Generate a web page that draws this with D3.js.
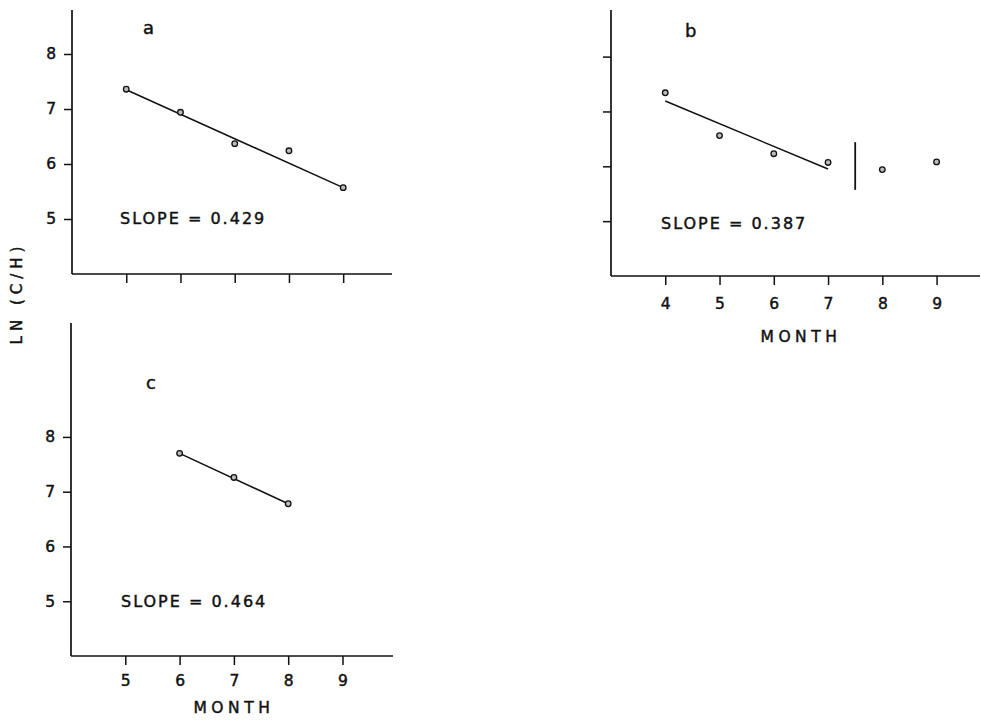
<!DOCTYPE html>
<html>
<head>
<meta charset="utf-8">
<script src="https://cdn.jsdelivr.net/npm/d3@7"></script>
<style>
  body { margin: 0; background: #fff; }
  svg text { font-family: 'DejaVu Sans', sans-serif; fill: #111; stroke: #111; stroke-width: 0.45; }
</style>
</head>
<body>
<div id="chart"></div>
<script>
// values
var yTicks = [5, 6, 7, 8];

var monthsA = [5, 6, 7, 8, 9];
var lnA = [7.36, 6.94, 6.37, 6.24, 5.57];
var fitMonthsA = [5, 9];
var fitA = [7.35, 5.57];

var monthsB = [4, 5, 6, 7, 8, 9];
var lnB = [7.34, 6.56, 6.23, 6.07, 5.94, 6.08];
var fitMonthsB = [4, 7];
var fitB = [7.19, 5.95];
var breakMonthB = 7.5;
var breakRangeB = [5.57, 6.44];

var monthsC = [6, 7, 8];
var lnC = [7.70, 7.26, 6.78];
var fitMonthsC = [6, 8];
var fitC = [7.70, 6.78];

var xTicksA = [5, 6, 7, 8, 9];
var xTicksB = [4, 5, 6, 7, 8, 9];
var xTicksC = [5, 6, 7, 8, 9];

var svgwidth = 981, svgheight = 728;

var svg = d3.select('#chart')
	.append('svg')
		.attr('width', svgwidth)
		.attr('height', svgheight);

function drawPanel(p) {
	var x = d3.scaleLinear().domain(p.xDomain).range([p.left, p.right]);
	var y = d3.scaleLinear().domain(p.yDomain).range([p.bottom, p.top]);
	var g = svg.append('g');

	// axes as plain lines, like the old plotter figure
	g.append('line')
		.attr('x1', p.left).attr('x2', p.left)
		.attr('y1', p.top).attr('y2', p.bottom)
		.attr('stroke', '#111').attr('stroke-width', 1.7);
	g.append('line')
		.attr('x1', p.left).attr('x2', p.right)
		.attr('y1', p.bottom).attr('y2', p.bottom)
		.attr('stroke', '#111').attr('stroke-width', 1.7);

	var yAxis = d3.axisLeft(y)
		.tickValues(yTicks)
		.tickSize(8)
		.tickPadding(8)
		.tickFormat(p.yLabels ? d3.format('d') : '');
	var gy = g.append('g')
		.attr('transform', 'translate(' + p.left + ',0)')
		.call(yAxis);
	gy.select('.domain').remove();

	var xAxis = d3.axisBottom(x)
		.tickValues(p.xTicks)
		.tickSize(9)
		.tickPadding(p.xPad)
		.tickFormat(p.xLabels ? d3.format('d') : '');
	var gx = g.append('g')
		.attr('transform', 'translate(0,' + p.bottom + ')')
		.call(xAxis);
	gx.select('.domain').remove();

	[gx, gy].forEach(function(a) {
		a.selectAll('.tick line').attr('stroke', '#111').attr('stroke-width', 1.5);
		a.selectAll('.tick text')
			.attr('font-size', 15.5)
			.attr('font-family', "'DejaVu Sans', sans-serif")
			.attr('fill', '#111');
	});

	// fitted line
	var fit = p.fitMonths.map(function(m, i) { return [m, p.fit[i]]; });
	g.append('path')
		.datum(fit)
		.attr('fill', 'none')
		.attr('stroke', '#111')
		.attr('stroke-width', 1.5)
		.attr('d', d3.line()
			.x(function(d) { return x(d[0]); })
			.y(function(d) { return y(d[1]); }));

	if (p.breakMonth) {
		g.append('line')
			.attr('x1', x(p.breakMonth)).attr('x2', x(p.breakMonth))
			.attr('y1', y(p.breakRange[1])).attr('y2', y(p.breakRange[0]))
			.attr('stroke', '#111').attr('stroke-width', 1.8);
	}

	var pts = p.months.map(function(m, i) { return [m, p.values[i]]; });
	g.selectAll('circle.pt')
		.data(pts)
		.enter().append('circle')
		.attr('class', 'pt')
		.attr('cx', function(d) { return x(d[0]); })
		.attr('cy', function(d) { return y(d[1]); })
		.attr('r', 2.8)
		.attr('fill', '#bbb')
		.attr('stroke', '#111')
		.attr('stroke-width', 1.3);

	g.append('text')
		.attr('x', p.letterPos[0])
		.attr('y', p.letterPos[1])
		.attr('font-size', 18)
		.text(p.letter);

	g.append('text')
		.attr('x', p.slopePos[0])
		.attr('y', p.slopePos[1])
		.attr('font-size', 16)
		.attr('letter-spacing', 2)
		.text(p.slope);

	if (p.xLabels) {
		g.append('text')
			.attr('x', (x(p.xTicks[0]) + x(p.xTicks[p.xTicks.length - 1])) / 2)
			.attr('y', p.bottom + p.monthOffset)
			.attr('text-anchor', 'middle')
			.attr('font-size', 15.5)
			.attr('letter-spacing', 4.5)
			.text('MONTH');
	}
}

drawPanel({
	left: 72, right: 392, top: 10, bottom: 274,
	xDomain: [4, 9.9], yDomain: [4, 8.8],
	xTicks: xTicksA, xLabels: false, yLabels: true, xPad: 12,
	months: monthsA, values: lnA, fitMonths: fitMonthsA, fit: fitA,
	letter: 'a', letterPos: [143, 34],
	slope: 'SLOPE = 0.429', slopePos: [120, 224]
});

drawPanel({
	left: 611, right: 980, top: 10, bottom: 276,
	xDomain: [3, 9.8], yDomain: [4, 8.85],
	xTicks: xTicksB, xLabels: true, yLabels: false, xPad: 13,
	months: monthsB, values: lnB, fitMonths: fitMonthsB, fit: fitB,
	breakMonth: breakMonthB, breakRange: breakRangeB,
	letter: 'b', letterPos: [685, 37],
	slope: 'SLOPE = 0.387', slopePos: [661, 229],
	monthOffset: 66
});

drawPanel({
	left: 71, right: 393, top: 323, bottom: 656,
	xDomain: [4, 9.93], yDomain: [4, 10.08],
	xTicks: xTicksC, xLabels: true, yLabels: true, xPad: 10,
	months: monthsC, values: lnC, fitMonths: fitMonthsC, fit: fitC,
	letter: 'c', letterPos: [146, 389],
	slope: 'SLOPE = 0.464', slopePos: [121, 607],
	monthOffset: 57
});

// shared y title
svg.append('text')
	.attr('transform', 'translate(22,293) rotate(-90)')
	.attr('text-anchor', 'middle')
	.attr('font-size', 15)
	.attr('letter-spacing', 5)
	.text('LN (C/H)');
</script>
</body>
</html>
